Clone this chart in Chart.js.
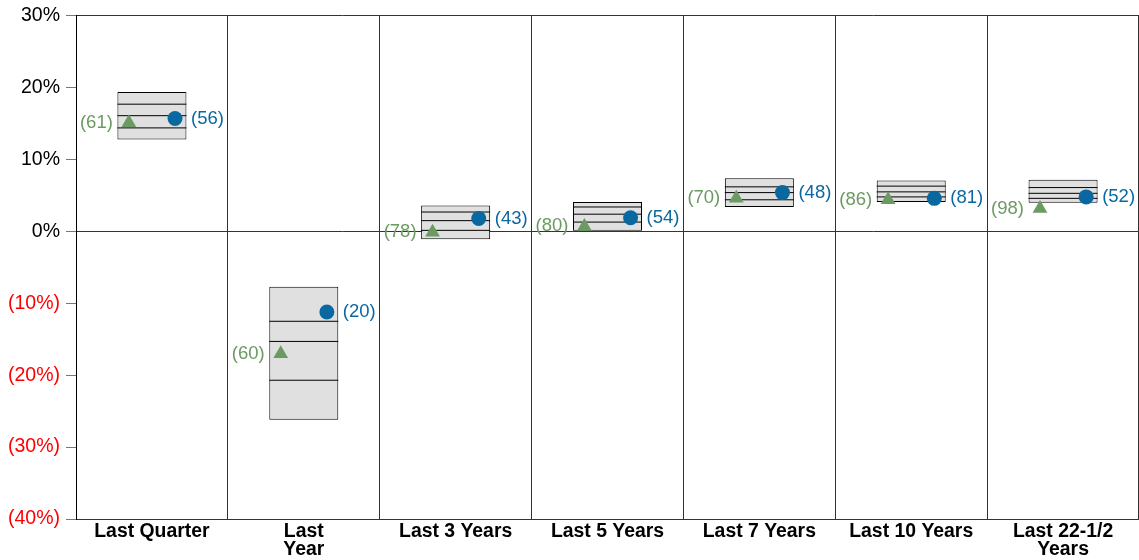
<!DOCTYPE html>
<html>
<head>
<meta charset="utf-8">
<script src="https://cdn.jsdelivr.net/npm/chart.js@4/dist/chart.umd.min.js"></script>
<style>
  html, body { margin: 0; padding: 0; background: #fff; }
  #wrap { width: 1139px; height: 560px; position: relative; }
</style>
</head>
<body>
<div id="wrap"><canvas id="chart"></canvas></div>
<script>
// periods on the x axis
const categories = ['Last Quarter', ['Last', 'Year'], 'Last 3 Years', 'Last 5 Years', 'Last 7 Years', 'Last 10 Years', ['Last 22-1/2', 'Years']];

// percentile box values (%)
const p90 = [19.4, -7.7, 3.6, 4.1, 7.4, 7.1, 7.2];
const p75 = [17.7, -12.5, 2.7, 3.4, 6.2, 6.3, 6.1];
const p50 = [16.1, -15.3, 1.5, 2.4, 5.4, 5.5, 5.3];
const p25 = [14.4, -20.7, 0.15, 1.3, 4.4, 4.8, 4.6];
const p10 = [12.8, -26.2, -1.1, 0.1, 3.4, 4.1, 4.0];

// markers: green triangle and blue circle, with their ranks
const triangleValues = [15.1, -17.0, -0.1, 0.7, 4.6, 4.4, 3.2];
const triangleRanks = [61, 60, 78, 80, 70, 86, 98];
const circleValues = [15.7, -11.2, 1.8, 1.9, 5.4, 4.6, 4.8];
const circleRanks = [56, 20, 43, 54, 48, 81, 52];

// y axis
const yMin = -40, yMax = 30, yStep = 10;

const FONT = 'Liberation Sans, Arial, Helvetica, sans-serif';
const GREEN = '#6b9a62';
const BLUE = '#0a68a0';
const BOX_W = 69;
const MARK_SHIFT = 0.152;

const lineSet = (vals) => ({
    type: 'line',
    xAxisID: 'x2',
    data: vals.map((v, i) => ({ x: i, y: v })),
    showLine: false,
    pointStyle: 'line',
    pointRadius: BOX_W / 2,
    pointHoverRadius: BOX_W / 2,
    pointBorderColor: '#000',
    pointBorderWidth: 1,
    order: 1
});

// draw the rank labels next to the markers
const rankLabels = {
    id: 'rankLabels',
    afterDatasetsDraw(chart) {
        const ctx = chart.ctx;
        ctx.save();
        ctx.font = '18.5px ' + FONT;
        ctx.textBaseline = 'middle';
        chart.data.datasets.forEach((ds, di) => {
            if (!ds.ranks) return;
            const meta = chart.getDatasetMeta(di);
            meta.data.forEach((pt, i) => {
                ctx.fillStyle = ds.pointBackgroundColor;
                ctx.textAlign = ds.labelSide < 0 ? 'right' : 'left';
                ctx.fillText('(' + ds.ranks[i] + ')', pt.x + ds.labelSide * 16, pt.y);
            });
        });
        ctx.restore();
    }
};

new Chart(document.getElementById('chart'), {
    type: 'bar',
    data: {
        labels: categories,
        datasets: [
            {
                type: 'line',
                xAxisID: 'x2',
                data: triangleValues.map((v, i) => ({ x: i - MARK_SHIFT, y: v })),
                showLine: false,
                pointStyle: 'triangle',
                pointRadius: 8.5,
                pointBackgroundColor: GREEN,
                pointBorderColor: GREEN,
                pointBorderWidth: 0,
                ranks: triangleRanks,
                labelSide: -1,
                order: 0
            },
            {
                type: 'line',
                xAxisID: 'x2',
                data: circleValues.map((v, i) => ({ x: i + MARK_SHIFT, y: v })),
                showLine: false,
                pointStyle: 'circle',
                pointRadius: 7.5,
                pointBackgroundColor: BLUE,
                pointBorderColor: BLUE,
                pointBorderWidth: 0,
                ranks: circleRanks,
                labelSide: 1,
                order: 0
            },
            lineSet(p75),
            lineSet(p50),
            lineSet(p25),
            {
                data: p10.map((v, i) => [v, p90[i]]),
                backgroundColor: '#e0e0e0',
                borderColor: '#000',
                borderWidth: 1,
                borderSkipped: false,
                grouped: false,
                maxBarThickness: BOX_W,
                order: 2
            }
        ]
    },
    options: {
        responsive: true,
        maintainAspectRatio: false,
        animation: false,
        layout: { autoPadding: false, padding: { top: 14, right: 0, left: 0, bottom: 0 } },
        plugins: { legend: { display: false }, tooltip: { enabled: false } },
        scales: {
            x: {
                grid: { color: '#333', drawTicks: false, offset: true },
                border: { color: '#333' },
                ticks: {
                    color: '#000',
                    padding: 4,
                    maxRotation: 0,
                    autoSkip: false,
                    font: { family: FONT, size: 19.4, weight: 'bold', lineHeight: '18px' }
                },
                afterFit(scale) { scale.height = 41; }
            },
            x2: {
                type: 'linear',
                display: false,
                offset: false,
                grid: { offset: false },
                min: -0.5,
                max: categories.length - 0.5
            },
            y: {
                min: yMin,
                max: yMax,
                ticks: {
                    stepSize: yStep,
                    padding: 6,
                    color: (c) => c.tick.value < 0 ? '#ff0000' : '#000',
                    font: { family: FONT, size: 19.5, lineHeight: 1 },
                    callback: (v) => v < 0 ? '(' + Math.abs(v) + '%)' : v + '%'
                },
                grid: {
                    color: (c) => (c.tick.value === 0 || c.tick.value === yMax) ? '#333' : 'rgba(0,0,0,0)',
                    tickColor: '#777',
                    tickLength: 10
                },
                border: { color: '#000' },
                afterFit(scale) { scale.width = 76; }
            }
        }
    },
    plugins: [rankLabels]
});
</script>
</body>
</html>
